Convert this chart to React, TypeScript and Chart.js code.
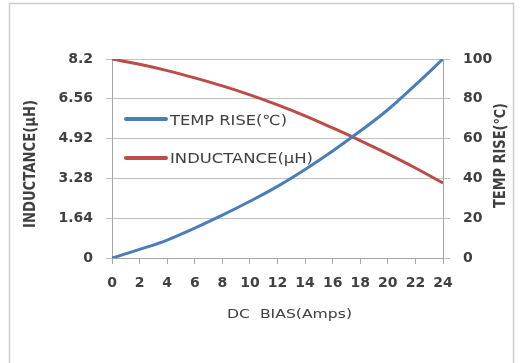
import React, { useEffect, useRef } from "react";
import { Chart, registerables } from "chart.js";

Chart.register(...registerables);

const AMPS = [0, 2, 4, 6, 8, 10, 12, 14, 16, 18, 20, 22, 24];
const TEMP_RISE = [0, 4.3, 9, 15, 21.5, 28.5, 36, 44.5, 53.8, 63.8, 74.5, 87, 100];
const INDUCTANCE = [8.2, 7.98, 7.72, 7.42, 7.09, 6.72, 6.31, 5.86, 5.36, 4.84, 4.29, 3.71, 3.09];
const IND_TICKS = [0, 1.64, 3.28, 4.92, 6.56, 8.2];
const IND_TICK_LABELS = ["0", "1.64", "3.28", "4.92", "6.56", "8.2"];
const TEMP_TICKS = [0, 20, 40, 60, 80, 100];
const X_TICKS = [0, 2, 4, 6, 8, 10, 12, 14, 16, 18, 20, 22, 24];

const LEGEND_TEMP = "TEMP RISE(\u2103)";
const LEGEND_IND = "INDUCTANCE(\u03bcH)";
const X_TITLE = "DC  BIAS(Amps)";
const Y_LEFT_TITLE = "INDUCTANCE(\u03bcH)";
const Y_RIGHT_TITLE = "TEMP RISE(\u2103)";

const BLUE = "#4a7ebb";
const RED = "#be4b48";
const TEXT = "#404040";
const FONT = "'DejaVu Sans', sans-serif";

function fitText(ctx: CanvasRenderingContext2D, text: string, cx: number, cy: number, font: string, width: number, rot: number, align: "center" | "left" = "center") {
  ctx.save();
  ctx.font = font;
  const w = ctx.measureText(text).width;
  const sx = width / w;
  ctx.translate(cx, cy);
  ctx.rotate(rot);
  ctx.scale(sx, 1);
  ctx.textAlign = align;
  ctx.textBaseline = "middle";
  ctx.fillStyle = TEXT;
  ctx.fillText(text, 0, 0);
  ctx.restore();
}

const decor = {
  id: "decor",
  afterDraw(chart: any) {
    const ctx = chart.ctx as CanvasRenderingContext2D;
    ctx.save();
    ctx.strokeStyle = "#cccccc";
    ctx.lineWidth = 1.5;
    ctx.strokeRect(9.5, 3.5, 504, 380);
    fitText(ctx, Y_LEFT_TITLE, 31, 164, `bold 15px ${FONT}`, 128, -Math.PI / 2);
    fitText(ctx, Y_RIGHT_TITLE, 501.5, 155.5, `bold 15px ${FONT}`, 105, -Math.PI / 2);
    fitText(ctx, X_TITLE, 289.5, 315, `13px ${FONT}`, 125, 0);
    ctx.lineWidth = 4;
    ctx.lineCap = "round";
    ctx.strokeStyle = BLUE;
    ctx.beginPath();
    ctx.moveTo(126, 119);
    ctx.lineTo(166, 119);
    ctx.stroke();
    ctx.strokeStyle = RED;
    ctx.beginPath();
    ctx.moveTo(126, 158);
    ctx.lineTo(166, 158);
    ctx.stroke();
    fitText(ctx, LEGEND_TEMP, 170, 121, `14px ${FONT}`, 117, 0, "left");
    fitText(ctx, LEGEND_IND, 170, 159, `14px ${FONT}`, 143, 0, "left");
    ctx.restore();
  },
};

export default function App() {
  const ref = useRef<HTMLCanvasElement | null>(null);
  useEffect(() => {
    if (!ref.current) return;
    const chart = new Chart(ref.current, {
      type: "line",
      data: {
        datasets: [
          {
            label: LEGEND_TEMP,
            data: AMPS.map((x, i) => ({ x, y: TEMP_RISE[i] })),
            borderColor: BLUE,
            borderWidth: 3,
            pointRadius: 0,
            tension: 0.4,
            yAxisID: "y2",
          },
          {
            label: LEGEND_IND,
            data: AMPS.map((x, i) => ({ x, y: INDUCTANCE[i] })),
            borderColor: RED,
            borderWidth: 3,
            pointRadius: 0,
            tension: 0.4,
            yAxisID: "y",
          },
        ],
      },
      plugins: [decor],
      options: {
        animation: false,
        responsive: false,
        maintainAspectRatio: false,
        layout: { padding: { top: 59, left: 0, right: 0, bottom: 0 } },
        plugins: { legend: { display: false }, tooltip: { enabled: false } },
        scales: {
          x: {
            type: "linear",
            min: 0,
            max: 24,
            afterBuildTicks: (s: any) => {
              s.ticks = X_TICKS.map((v) => ({ value: v }));
            },
            afterFit: (s: any) => {
              s.height = 105;
            },
            ticks: {
              autoSkip: false,
              maxRotation: 0,
              padding: 11,
              color: TEXT,
              font: { family: FONT, size: 14, weight: "bold" },
              callback: (v: any) => String(v),
            },
            grid: { drawOnChartArea: false, tickLength: 6, color: "#a6a6a6" },
            border: { display: true, color: "#a6a6a6" },
          },
          y: {
            type: "linear",
            position: "left",
            min: 0,
            max: 8.2,
            afterBuildTicks: (s: any) => {
              s.ticks = IND_TICKS.map((v) => ({ value: v }));
            },
            afterFit: (s: any) => {
              s.width = 112;
            },
            ticks: {
              padding: 13,
              color: TEXT,
              font: { family: FONT, size: 14, weight: "bold" },
              callback: (_v: any, i: number) => IND_TICK_LABELS[i],
            },
            grid: { color: "#c0c0c0", tickLength: 6 },
            border: { display: true, color: "#a6a6a6" },
          },
          y2: {
            type: "linear",
            position: "right",
            min: 0,
            max: 100,
            afterBuildTicks: (s: any) => {
              s.ticks = TEMP_TICKS.map((v) => ({ value: v }));
            },
            afterFit: (s: any) => {
              s.width = 80;
            },
            ticks: {
              padding: 13,
              color: TEXT,
              font: { family: FONT, size: 14, weight: "bold" },
              callback: (v: any) => String(v),
            },
            grid: { drawOnChartArea: false, color: "#c0c0c0", tickLength: 7 },
            border: { display: true, color: "#a6a6a6" },
          },
        },
      },
    } as any);
    return () => chart.destroy();
  }, []);
  return (
    <div style={{ position: "fixed", left: 0, top: 0, width: 523, height: 363, background: "#fff" }}>
      <canvas ref={ref} width={523} height={363} style={{ width: 523, height: 363, display: "block" }} />
    </div>
  );
}
